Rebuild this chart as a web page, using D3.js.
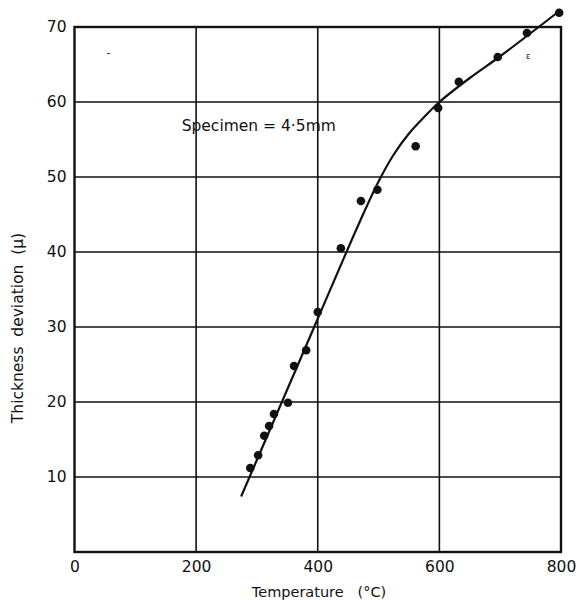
<!DOCTYPE html>
<html>
<head>
<meta charset="utf-8">
<script src="https://cdn.jsdelivr.net/npm/d3@7"></script>
<style>
  body { margin: 0; background: #fff; }
  svg { display: block; }
  text { font-family: "DejaVu Sans", sans-serif; fill: #111; }
</style>
</head>
<body>
<div id="chart"></div>
<script>
// measured points, temperature (°C) vs thickness deviation (μ)
const temps = [289, 302, 312, 320, 328, 351, 361, 381, 400, 438, 471, 498, 561, 598, 632, 696, 744, 797];
const devs = [11.2, 12.9, 15.5, 16.8, 18.4, 19.9, 24.8, 26.9, 32.0, 40.5, 46.8, 48.3, 54.1, 59.2, 62.7, 66.0, 69.2, 71.9];

// hand drawn curve through the points
const curveT = [274, 400, 470, 500, 525, 550, 575, 600, 650, 700, 800];
const curveD = [7.4, 31.1, 44.2, 49.4, 53.0, 55.8, 58.0, 60.0, 63.2, 66.1, 72.3];

const xTicks = [0, 200, 400, 600, 800];
const yTicks = [10, 20, 30, 40, 50, 60, 70];

const width = 576;
const height = 604;
const leftMargin = 74.5;
const rightMargin = 15;
const topMargin = 27;
const bottomMargin = 52;

const svg = d3.select('#chart').append('svg').attr('width', width).attr('height', height);

const x = d3.scaleLinear().domain([0, 800]).range([leftMargin, width - rightMargin]);
const y = d3.scaleLinear().domain([0, 70]).range([height - bottomMargin, topMargin]);

// grid
svg.append('g').selectAll('line').data(xTicks.slice(1, -1)).enter().append('line')
  .attr('x1', d => x(d)).attr('x2', d => x(d))
  .attr('y1', y(0)).attr('y2', y(70))
  .attr('stroke', '#111').attr('stroke-width', 1.6);
svg.append('g').selectAll('line').data(yTicks.slice(0, -1)).enter().append('line')
  .attr('x1', x(0)).attr('x2', x(800))
  .attr('y1', d => y(d)).attr('y2', d => y(d))
  .attr('stroke', '#111').attr('stroke-width', 1.6);

// frame
svg.append('rect')
  .attr('x', x(0)).attr('y', y(70))
  .attr('width', x(800) - x(0)).attr('height', y(0) - y(70))
  .attr('fill', 'none').attr('stroke', '#111').attr('stroke-width', 2.4);

// axes, labels only
const xAxis = svg.append('g').attr('transform', `translate(0, ${y(0)})`)
  .call(d3.axisBottom(x).tickValues(xTicks).tickSize(0).tickPadding(9));
const yAxis = svg.append('g').attr('transform', `translate(${x(0)}, 0)`)
  .call(d3.axisLeft(y).tickValues(yTicks).tickSize(0).tickPadding(8));
[xAxis, yAxis].forEach(g => {
  g.select('.domain').remove();
  g.selectAll('text').attr('font-size', 15.5).attr('font-family', '"DejaVu Sans", sans-serif').attr('fill', '#111');
});

// axis titles
svg.append('text').attr('x', 319).attr('y', 597).attr('text-anchor', 'middle')
  .attr('font-size', 14.5).attr('xml:space', 'preserve').text('Temperature   (°C)');
svg.append('text').attr('transform', 'translate(23, 328) rotate(-90)').attr('text-anchor', 'middle')
  .attr('font-size', 15.5).attr('xml:space', 'preserve').text('Thickness  deviation  (μ)');

// fitted curve
const line = d3.line().x(d => x(d[0])).y(d => y(d[1])).curve(d3.curveCatmullRom.alpha(0.5));
svg.append('path').datum(curveT.map((t, i) => [t, curveD[i]]))
  .attr('d', line).attr('fill', 'none').attr('stroke', '#111').attr('stroke-width', 2.2);

// points
svg.append('g').selectAll('circle').data(temps).enter().append('circle')
  .attr('cx', d => x(d)).attr('cy', (d, i) => y(devs[i])).attr('r', 4.3).attr('fill', '#111');

// annotation
svg.append('text').attr('x', x(303)).attr('y', y(56.1)).attr('text-anchor', 'middle')
  .attr('font-size', 15.5).text('Specimen = 4·5mm');

// small marks in the scan
svg.append('text').attr('x', x(56)).attr('y', y(66.2)).attr('text-anchor', 'middle')
  .attr('font-size', 11).text('-');
svg.append('text').attr('x', x(746)).attr('y', y(65.7)).attr('text-anchor', 'middle')
  .attr('font-size', 8).attr('fill', '#555').text('ε');
</script>
</body>
</html>
